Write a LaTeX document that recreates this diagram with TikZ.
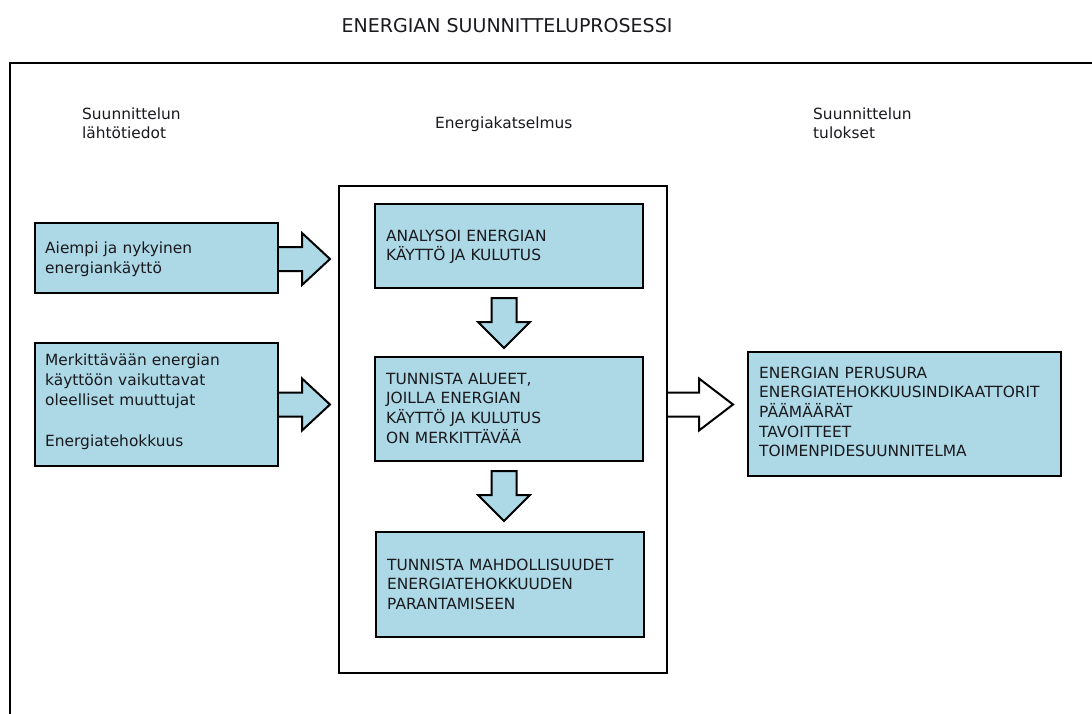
\documentclass[tikz,border=0pt]{standalone}
\usepackage{fontspec}
\setmainfont{DejaVu Sans}
\usetikzlibrary{calc}
\definecolor{boxblue}{RGB}{173,216,230}
\definecolor{ink}{RGB}{25,25,30}

% right-pointing block arrow: #1 style, #2 start point, #3 shaft length,
% #4 total length, #5 shaft half width, #6 head half width (left end left open)
\newcommand\rightblock[6]{%
  \fill[#1] ($(#2)+(0,-#5)$) -- ($(#2)+(#3,-#5)$) -- ($(#2)+(#3,-#6)$)
     -- ($(#2)+(#4,0)$) -- ($(#2)+(#3,#6)$) -- ($(#2)+(#3,#5)$) -- ($(#2)+(0,#5)$) -- cycle;
  \draw[blockline] ($(#2)+(0,-#5)$) -- ($(#2)+(#3,-#5)$) -- ($(#2)+(#3,-#6)$)
     -- ($(#2)+(#4,0)$) -- ($(#2)+(#3,#6)$) -- ($(#2)+(#3,#5)$) -- ($(#2)+(0,#5)$);
}
% downward block arrow, closed outline
\newcommand\downblock[1]{%
  \draw[blockline, fill=boxblue] ($(#1)+(-12.5,0)$) -- ($(#1)+(12.5,0)$) -- ($(#1)+(12.5,24)$)
     -- ($(#1)+(26,24)$) -- ($(#1)+(0,50)$) -- ($(#1)+(-26,24)$) -- ($(#1)+(-12.5,24)$) -- cycle;
}

\begin{document}
\begin{tikzpicture}[x=1pt, y=-1pt,
  box/.style={draw=black, line width=2pt, fill=boxblue, inner sep=0pt, anchor=north west},
  frame/.style={draw=black, line width=2pt, fill=white, inner sep=0pt, anchor=north west},
  blockline/.style={draw=black, line width=2pt, line join=miter},
  txt/.style={anchor=base west, inner sep=0pt, align=left, text=ink, text width=320pt,
    font=\fontsize{15.4}{19.7}\selectfont},
  lefttxt/.style={txt, font=\fontsize{15.4}{20.4}\selectfont},
]
\useasboundingbox (0,0) rectangle (1092,713);
\clip (0,0) rectangle (1092,713);

% title and the outer frame (runs off the right and bottom)
\node[anchor=base, inner sep=0pt, text=ink, font=\fontsize{19}{23}\selectfont]
  (title) at (507,32) {ENERGIAN SUUNNITTELUPROSESSI};
\draw[line width=2.4pt, line join=miter] (10,740) -- (10,63) -- (1120,63);

% column headings
\node[txt] (hin) at (82,119) {Suunnittelun\\lähtötiedot};
\node[txt] (haudit) at (435,128) {Energiakatselmus};
\node[txt] (hout) at (813,119) {Suunnittelun\\tulokset};

% inputs
\node[box, minimum width=243pt, minimum height=70pt] (in1) at (34,222) {};
\node[lefttxt] (in1t) at (45,253) {Aiempi ja nykyinen\\energiankäyttö};
\node[box, minimum width=243pt, minimum height=123pt] (in2) at (34,342) {};
\node[lefttxt] (in2t) at (45,365) {Merkittävään energian\\käyttöön vaikuttavat\\oleelliset muuttujat\\[20.4pt]Energiatehokkuus};

% energy audit
\node[frame, minimum width=328pt, minimum height=487pt] (audit) at (338,185) {};
\node[box, minimum width=268pt, minimum height=84pt] (s1) at (374,203) {};
\node[txt] (s1t) at (386,241) {ANALYSOI ENERGIAN\\KÄYTTÖ JA KULUTUS};
\node[box, minimum width=268pt, minimum height=104pt] (s2) at (374,356) {};
\node[txt] (s2t) at (386,384) {TUNNISTA ALUEET,\\JOILLA ENERGIAN\\KÄYTTÖ JA KULUTUS\\ON MERKITTÄVÄÄ};
\node[box, minimum width=268pt, minimum height=105pt] (s3) at (375,531) {};
\node[txt] (s3t) at (387,570) {TUNNISTA MAHDOLLISUUDET\\ENERGIATEHOKKUUDEN\\PARANTAMISEEN};

% results
\node[box, minimum width=313pt, minimum height=124pt] (res) at (747,351) {};
\node[txt] (rest) at (759,378) {ENERGIAN PERUSURA\\ENERGIATEHOKKUUSINDIKAATTORIT\\PÄÄMÄÄRÄT\\TAVOITTEET\\TOIMENPIDESUUNNITELMA};

% block arrows
\coordinate (a1) at ($(in1.east)+(0,1)$);
\coordinate (a2) at (in2.east);
\coordinate (a3) at (audit.east |- in2.east);
\rightblock{boxblue}{a1}{23}{51}{12}{26}
\rightblock{boxblue}{a2}{23}{51}{12}{26}
\rightblock{white}{a3}{31}{65}{12}{26}
\coordinate (d1) at ($(s1.south)+(-5,9)$);
\coordinate (d2) at ($(s2.south)+(-5,9)$);
\downblock{d1}
\downblock{d2}
\end{tikzpicture}
\end{document}
